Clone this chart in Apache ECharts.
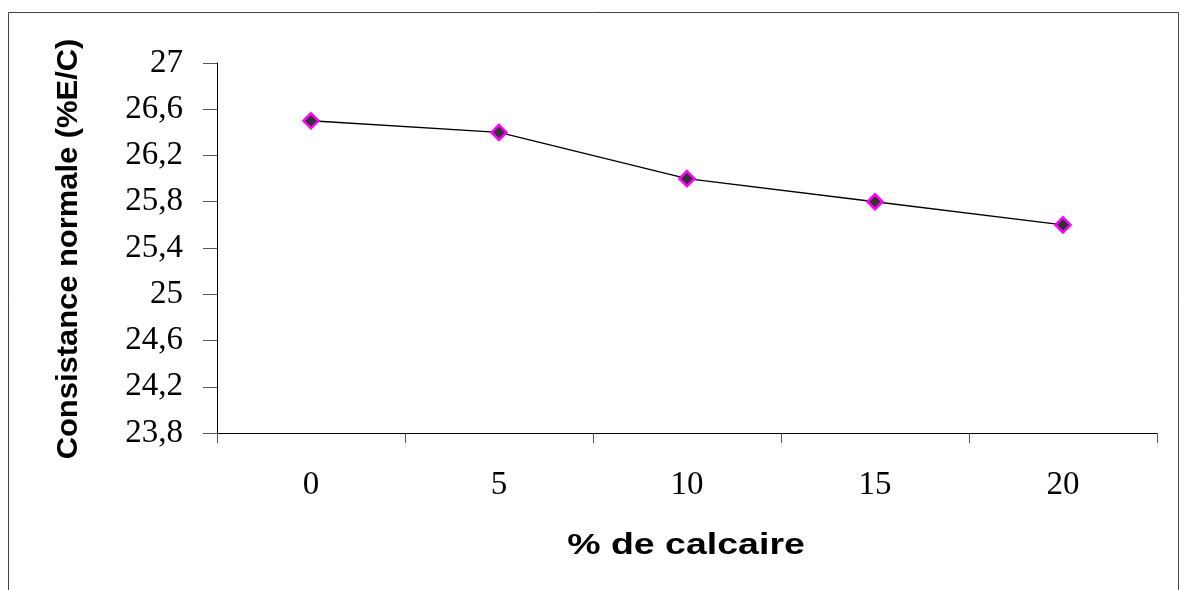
<!DOCTYPE html>
<html>
<head>
<meta charset="utf-8">
<script src="https://cdn.jsdelivr.net/npm/echarts@6/dist/echarts.min.js"></script>
<style>
html,body{margin:0;padding:0;background:#fff;}
#c{width:1180px;height:590px;}
</style>
</head>
<body>
<div id="c"></div>
<script>
const categories = ['0', '5', '10', '15', '20'];
const consistance = [26.5, 26.4, 26.0, 25.8, 25.6];
const yMin = 23.8, yMax = 27, yStep = 0.4;
const xTitle = '% de calcaire';
const yTitle = 'Consistance normale (%E/C)';

const chart = echarts.init(document.getElementById('c'), null, {renderer: 'canvas'});
chart.setOption({
  animation: false,
  backgroundColor: '#fff',
  grid: {left: 217, top: 63, right: 23, bottom: 157, containLabel: false},
  xAxis: {
    type: 'category',
    data: categories,
    boundaryGap: true,
    axisLine: {lineStyle: {color: '#000', width: 1}},
    axisTick: {show: true, length: 10, inside: false, lineStyle: {color: '#555'}},
    axisLabel: {fontFamily: '"Liberation Serif", "Times New Roman", serif', fontSize: 33, color: '#000', margin: 36},
    splitLine: {show: false}
  },
  yAxis: {
    type: 'value',
    min: yMin, max: yMax, interval: yStep,
    axisLine: {show: true, lineStyle: {color: '#000', width: 1}},
    axisTick: {show: true, length: 14, lineStyle: {color: '#555'}},
    axisLabel: {
      fontFamily: '"Liberation Serif", "Times New Roman", serif', fontSize: 33, color: '#000', margin: 34,
      formatter: v => (Math.round(v * 10) / 10).toString().replace('.', ',')
    },
    splitLine: {show: false}
  },
  graphic: [
    {type: 'rect', shape: {x: 8.5, y: 12.5, width: 1170, height: 600}, style: {fill: 'none', stroke: '#444', lineWidth: 1}, silent: true},
    {type: 'text', x: 686, y: 546, scaleX: 1.25, style: {text: xTitle, font: 'bold 30px "Liberation Sans"', fill: '#000', align: 'center', verticalAlign: 'middle'}},
    {type: 'text', x: 69, y: 249, rotation: Math.PI / 2, scaleX: 1.03, style: {text: yTitle, font: 'bold 30px "Liberation Sans"', fill: '#000', align: 'center', verticalAlign: 'middle'}}
  ],
  series: [{
    type: 'line',
    data: consistance,
    symbol: 'diamond',
    symbolSize: 15,
    lineStyle: {color: '#000', width: 1.5},
    itemStyle: {color: '#333', borderColor: '#FF00FF', borderWidth: 2.5}
  }]
});
</script>
</body>
</html>
